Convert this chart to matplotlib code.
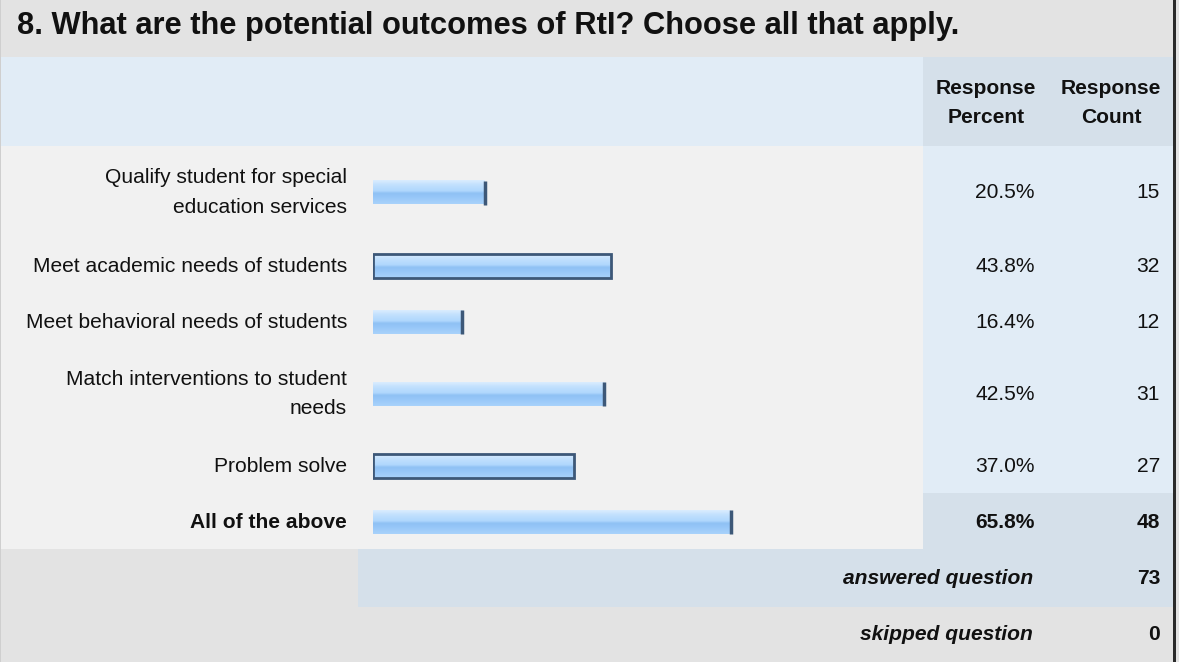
import numpy as np
import matplotlib
matplotlib.use('Agg')
import matplotlib.pyplot as plt
from matplotlib.patches import Rectangle
from matplotlib.colors import LinearSegmentedColormap

plt.rcParams['font.family'] = ['Liberation Sans', 'DejaVu Sans']

title = '8. What are the potential outcomes of RtI? Choose all that apply.'
choices = ['Qualify student for special\neducation services',
           'Meet academic needs of students',
           'Meet behavioral needs of students',
           'Match interventions to student\nneeds',
           'Problem solve',
           'All of the above']
percents = [20.5, 43.8, 16.4, 42.5, 37.0, 65.8]
counts = [15, 32, 12, 31, 27, 48]
header_cols = ['Response\nPercent', 'Response\nCount']
answered = 73
skipped = 0

# layout in pixels (figure is 1179 x 662)
W, H = 1179, 662
row_edges = [146, 237, 293, 349, 437, 493, 549]
col_split = 923
right_edge = 1173
pct_x = 1035
cnt_x = 1160
label_x = 347
bar_x0, bar_x1 = 373, 917
bar_h = 24
top_row = int(np.argmax(percents))

grey = '#e3e3e3'
light = '#f1f1f1'
blue1 = '#e1ecf6'
blue2 = '#d5e0ea'
txt = '#111111'
fs = 15.1
ls = 1.68

fig = plt.figure(figsize=(W / 100, H / 100), dpi=100)
bg = fig.add_axes([0, 0, 1, 1])
bg.set_xlim(0, W)
bg.set_ylim(H, 0)
bg.axis('off')

def box(x0, y0, x1, y1, c):
    bg.add_patch(Rectangle((x0, y0), x1 - x0, y1 - y0, facecolor=c, edgecolor='none', zorder=0))

box(0, 0, W, H, grey)
box(0, 57, col_split, 146, blue1)
box(col_split, 57, right_edge, 146, blue2)
box(0, 146, col_split, 549, light)
box(col_split, 146, right_edge, 549, blue1)
box(col_split, row_edges[top_row], right_edge, row_edges[top_row + 1], blue2)
box(358, 549, right_edge, 607, blue2)
box(right_edge, 0, right_edge + 3, H, '#2b2b2b')
box(0, 0, 1, H, '#cfcfcf')

bg.text(17, 34, title, fontsize=22.2, fontweight='bold', color=txt, ha='left', va='baseline')
bg.text(986, 103, header_cols[0], fontsize=fs, fontweight='bold',
        color=txt, ha='center', va='center', linespacing=ls)
bg.text(1111, 103, header_cols[1], fontsize=fs, fontweight='bold',
        color=txt, ha='center', va='center', linespacing=ls)

centers = [(row_edges[i] + row_edges[i + 1]) / 2 for i in range(len(choices))]
for i, (lab, p, c) in enumerate(zip(choices, percents, counts)):
    w = 'bold' if i == top_row else 'normal'
    yc = centers[i] + 1
    bg.text(label_x, yc, lab, fontsize=fs, fontweight=w, color=txt, ha='right', va='center',
            multialignment='right', linespacing=ls)
    bg.text(pct_x, yc, '%.1f%%' % p, fontsize=fs, fontweight=w, color=txt, ha='right', va='center')
    bg.text(cnt_x, yc, str(c), fontsize=fs, fontweight=w, color=txt, ha='right', va='center')

bg.text(1033, 578, 'answered question', fontsize=fs, fontweight='bold', fontstyle='italic',
        color=txt, ha='right', va='center')
bg.text(cnt_x, 578, str(answered), fontsize=fs, fontweight='bold', color=txt, ha='right', va='center')
bg.text(1033, 634.5, 'skipped question', fontsize=fs, fontweight='bold', fontstyle='italic',
        color=txt, ha='right', va='center')
bg.text(cnt_x, 634.5, str(skipped), fontsize=fs, fontweight='bold', color=txt, ha='right', va='center')

# bars
ax = fig.add_axes([bar_x0 / W, 0, (bar_x1 - bar_x0) / W, 1])
ax.set_xlim(0, 100)
ax.set_ylim(H, 0)
ax.axis('off')
ax.patch.set_alpha(0)

grad = LinearSegmentedColormap.from_list('bar', [
    (0.0, '#dbedfe'), (0.18, '#c3e1fe'), (0.45, '#b0d7fd'),
    (0.55, '#8fc1f4'), (0.72, '#97c7f8'), (1.0, '#a8d2fb')])
g = np.linspace(0, 1, 64).reshape(-1, 1)
outlined = [1, 4]
for i, p in enumerate(percents):
    yc = centers[i] + 1
    ax.imshow(g, cmap=grad, extent=(0, p, yc + bar_h / 2, yc - bar_h / 2),
              aspect='auto', interpolation='bilinear', zorder=2)
    if i in outlined:
        ax.barh(yc, p, height=bar_h, left=0, fill=False, edgecolor='#3d5878', linewidth=2, zorder=3)
    else:
        ax.vlines(p, yc - bar_h / 2, yc + bar_h / 2, color='#3d5878', linewidth=2.5, zorder=3)
ax.set_xlim(0, 100)
ax.set_ylim(H, 0)

fig.savefig('out.png', dpi=100)
